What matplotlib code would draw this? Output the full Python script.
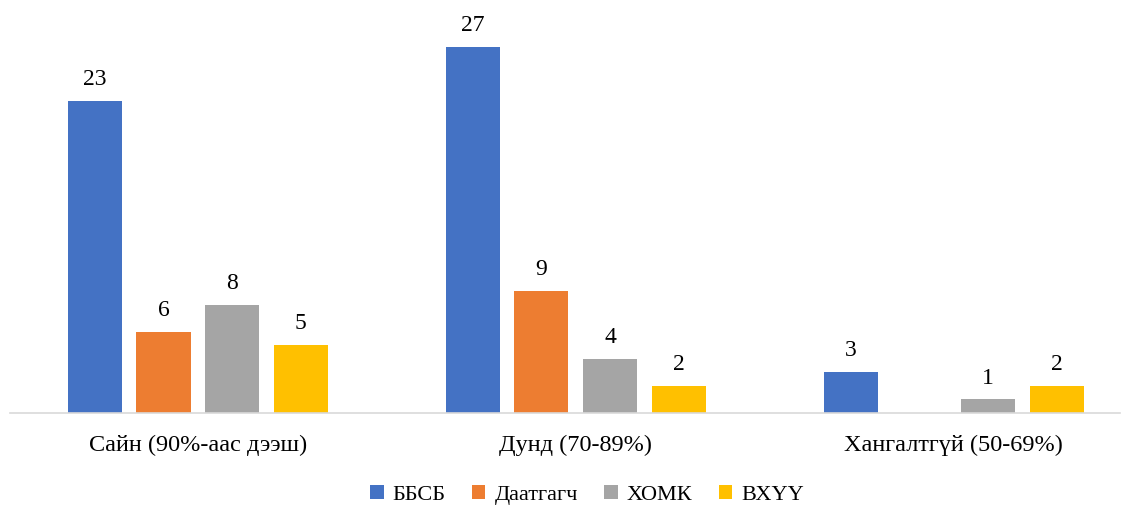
import matplotlib.pyplot as plt
import numpy as np

plt.rcParams['font.family'] = ['Liberation Serif', 'DejaVu Serif']

categories = ['Сайн (90%-аас дээш)', 'Дунд (70-89%)', 'Хангалтгүй (50-69%)']
series_names = ['ББСБ', 'Даатгагч', 'ХОМК', 'ВХҮҮ']
bbsb = [23, 27, 3]
daatgagch = [6, 9, 0]
homk = [8, 4, 1]
vhuu = [5, 2, 2]
colors = ['#4472C4', '#ED7D31', '#A5A5A5', '#FFC000']

series = [bbsb, daatgagch, homk, vhuu]

fig = plt.figure(figsize=(11.29, 5.05), dpi=100)
ax = fig.add_axes([10 / 1129, 92 / 505, 1110 / 1129, 413 / 505])

x = np.arange(len(categories))
step = 0.1817
width = 0.1429
for i, (name, vals, c) in enumerate(zip(series_names, series, colors)):
    pos = x + (i - 1.5) * step
    bars = ax.bar(pos, vals, width=width, color=c, label=name)
    for b, v in zip(bars, vals):
        if v > 0:
            ax.text(b.get_x() + b.get_width() / 2, v + 0.8, str(v),
                    ha='center', va='bottom', fontsize=17)

ax.set_xlim(-0.497, 2.44)
ax.set_ylim(0, 30.46)
ax.set_xticks(x)
ax.set_xticklabels(categories, fontsize=17.5)
ax.tick_params(axis='x', length=0, pad=16)
ax.set_yticks([])
for s in ['top', 'right', 'left']:
    ax.spines[s].set_visible(False)
ax.spines['bottom'].set_color('#D9D9D9')
ax.spines['bottom'].set_linewidth(1.2)

fig.legend(loc='lower center', bbox_to_anchor=(0.52, -0.04), ncol=4, frameon=False,
           fontsize=16, handlelength=0.6, handleheight=0.6, handletextpad=0.4,
           columnspacing=1.2)

fig.savefig('out.png', dpi=100)
